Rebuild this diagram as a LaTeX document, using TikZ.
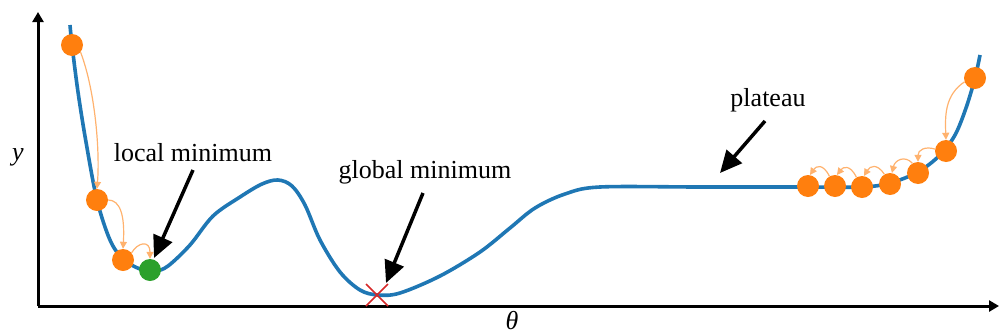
\documentclass[tikz,border=0pt]{standalone}
\usepackage{fontspec}
\setmainfont{Liberation Serif}
\usetikzlibrary{arrows.meta,calc}
\definecolor{cblue}{HTML}{1F77B4}
\definecolor{corange}{HTML}{FF7F0E}
\definecolor{cgreen}{HTML}{2CA02C}
\definecolor{cred}{HTML}{D62728}
\definecolor{clight}{HTML}{FFB26E}
\begin{document}
\begin{tikzpicture}[x=1pt,y=-1pt,
  ball/.style={circle,fill=corange,inner sep=0pt,minimum size=22pt},
  gball/.style={circle,fill=cgreen,inner sep=0pt,minimum size=22pt},
  hop/.style={draw=clight,line width=1.2pt,-{Triangle[length=7pt,width=7pt]}},
  pointer/.style={draw=black,line width=3.5pt,-{Triangle[length=22pt,width=20pt]}},
  axis/.style={draw=black,line width=3pt,-{Triangle[length=10pt,width=11pt]}},
  lbl/.style={font=\fontsize{26}{30}\selectfont,inner sep=0pt}]
\useasboundingbox (0,0) rectangle (1000,335);
% axes
\coordinate (o) at (38,306);
\coordinate (ytop) at (38,12);
\coordinate (xend) at (999,306);
\draw[axis] (o) -- (ytop);
\draw[axis] (o) -- (xend);
\node[lbl,font=\fontsize{26}{30}\selectfont\itshape] (ylab) at (18,157) {y};
\node[lbl,font=\fontsize{26}{30}\selectfont\itshape] (xlab) at (512,321) {θ};
% curve
\draw[cblue,line width=3.6pt,line join=round] plot[smooth,tension=0.55] coordinates {
 (70,25) (72,45) (78,92) (86,142) (97,200) (110,240) (123,259) (140,269) (155,271)
 (168,266) (190,245) (213,216) (240,197) (262,184) (278,180) (292,186) (305,205)
 (320,240) (340,272) (360,290) (378,295) (400,293) (440,276) (480,252) (510,228)
 (535,208) (565,194) (600,187) (700,187) (800,187) (862,187) (890,183) (918,172)
 (940,155) (955,135) (966,108) (975,78) (980,55)};
% balls
\node[ball] (b1) at (72,45) {};
\node[ball] (b2) at (97,200) {};
\node[ball] (b3) at (123,260) {};
\node[gball] (g) at (150,270) {};
\node[ball] (r1) at (975,78) {};
\node[ball] (r2) at (946,151) {};
\node[ball] (r3) at (918,173) {};
\node[ball] (r4) at (890,184) {};
\node[ball] (r5) at (862,187) {};
\node[ball] (r6) at (835,186) {};
\node[ball] (r7) at (808,186) {};
% hops left
\draw[hop] (b1.-40) .. controls (95,90) and (100,150) .. (b2.north);
\draw[hop] (b2.east) .. controls (120,200) and (125,215) .. (b3.north);
\draw[hop] (b3.40) .. controls (138,242) and (150,240) .. (g.north);
% hops right
\draw[hop] (r1.200) .. controls (945,95) and (945,115) .. (r2.north);
\draw[hop] (r2.170) .. controls (925,146) and (918,150) .. (r3.north);
\draw[hop] (r3.120) .. controls (905,155) and (895,160) .. (r4.80);
\draw[hop] (r4.120) .. controls (877,163) and (870,166) .. (r5.80);
\draw[hop] (r5.120) .. controls (850,164) and (843,167) .. (r6.80);
\draw[hop] (r6.120) .. controls (823,163) and (816,166) .. (r7.80);
% labels and pointers
\node[lbl] (loc) at (193,153) {local minimum};
\coordinate (locs) at (193,170);
\coordinate (loct) at (154,258);
\draw[pointer] (locs) -- (loct);
\node[lbl] (glob) at (425,172) {global minimum};
\coordinate (globs) at (423,193);
\coordinate (globt) at (386,283);
\draw[pointer] (globs) -- (globt);
\node[lbl] (plat) at (768,100) {plateau};
\coordinate (plats) at (765,121);
\coordinate (platt) at (720,173);
\draw[pointer] (plats) -- (platt);
% global minimum cross
\coordinate (gm) at (377,295);
\draw[cred,line width=1.5pt] ($(gm)+(-11,-11)$) -- ($(gm)+(11,11)$)
  ($(gm)+(-11,11)$) -- ($(gm)+(11,-11)$);
\end{tikzpicture}
\end{document}
